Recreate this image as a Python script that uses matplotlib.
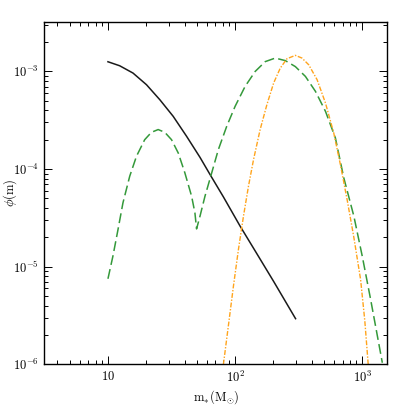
import matplotlib
matplotlib.use('Agg')
import matplotlib.pyplot as plt
from matplotlib.ticker import FixedLocator, FixedFormatter, LogLocator, NullFormatter

plt.rcParams['mathtext.fontset'] = 'cm'
plt.rcParams['font.family'] = 'serif'

# solid black curve
m_black = [10, 12.36, 15.74, 20.09, 25.59, 32.58, 41.5, 52.97, 63.53, 80.91, 109.4,
           148.3, 200.9, 299]
phi_black = [1.256e-3, 1.143e-3, 9.62e-4, 7.31e-4, 5.13e-4, 3.47e-4, 2.17e-4, 1.318e-4,
             8.79e-5, 5.19e-5, 2.61e-5, 1.36e-5, 7.08e-6, 2.94e-6]

# green dashed curve (two humps)
m_green = [10, 10.94, 12.0, 13.12, 14.83, 16.75, 19.45, 21.98, 24.83, 27.99, 31.62,
           35.73, 40.27, 45.5, 48.31, 49.77, 52.97, 57.94, 65.46, 73.79, 85.9, 100,
           119.9, 143.9, 172.6, 207.0, 248.3, 297.9, 357.3, 428.5, 514.0, 615.2, 716.1,
           859.0, 1000, 1164, 1439]
phi_green = [7.53e-6, 1.285e-5, 2.41e-5, 4.51e-5, 8.45e-5, 1.35e-4, 2.0e-4, 2.38e-4,
             2.54e-4, 2.38e-4, 2.0e-4, 1.46e-4, 9.14e-5, 5.27e-5, 3.56e-5, 2.44e-5,
             3.3e-5, 5.27e-5, 9.14e-5, 1.58e-4, 2.74e-4, 4.39e-4, 7.03e-4, 1.0e-3,
             1.26e-3, 1.37e-3, 1.29e-3, 1.12e-3, 8.89e-4, 6.25e-4, 3.9e-4, 2.08e-4,
             8.13e-5, 3.3e-5, 1.285e-5, 4.63e-6, 1.04e-6]

# orange dash-dot curve
m_orange = [80.91, 88.51, 97.05, 106.2, 116.4, 127.4, 139.6, 157.4, 177.8, 200.9, 226.5,
            255.9, 297.9, 335.7, 379.3, 441.6, 514.0, 597.0, 674.5, 762.1, 859.0, 970.5,
            1047, 1114]
phi_orange = [1.0e-6, 2.48e-6, 6.34e-6, 1.5e-5, 3.3e-5, 6.68e-5, 1.25e-4, 2.54e-4,
              4.56e-4, 7.6e-4, 1.08e-3, 1.35e-3, 1.46e-3, 1.37e-3, 1.17e-3, 8.22e-4,
              4.74e-4, 2.34e-4, 1.1e-4, 4.79e-5, 2.0e-5, 7.41e-6, 2.82e-6, 1.0e-6]

xticks = [10, 100, 1000]
xticklabels = [r'$10$', r'$10^{2}$', r'$10^{3}$']
yticks = [1e-6, 1e-5, 1e-4, 1e-3]
yticklabels = [r'$10^{-6}$', r'$10^{-5}$', r'$10^{-4}$', r'$10^{-3}$']

fig = plt.figure(figsize=(4.09, 4.09), dpi=100)
ax = fig.add_axes([0.108, 0.109, 0.839, 0.837])

ax.plot(m_black, phi_black, color='#1a1a1a', lw=1.1)
ax.plot(m_green, phi_green, color='#34993a', lw=1.1, dashes=(6.5, 2.8))
ax.plot(m_orange, phi_orange, color='#ffa41c', lw=1.0, dashes=(3.5, 1.2, 1, 1.2))

ax.set_xscale('log')
ax.set_yscale('log')
ax.set_xlim(3.15, 1575)
ax.set_ylim(1e-6, 3.2e-3)

ax.xaxis.set_major_locator(FixedLocator(xticks))
ax.xaxis.set_major_formatter(FixedFormatter(xticklabels))
ax.yaxis.set_major_locator(FixedLocator(yticks))
ax.yaxis.set_major_formatter(FixedFormatter(yticklabels))
ax.xaxis.set_minor_locator(LogLocator(base=10, subs=range(2, 10)))
ax.yaxis.set_minor_locator(LogLocator(base=10, subs=range(2, 10)))
ax.xaxis.set_minor_formatter(NullFormatter())
ax.yaxis.set_minor_formatter(NullFormatter())

ax.tick_params(which='both', direction='in', top=True, right=True, labelsize=9, width=0.7)
ax.tick_params(which='major', length=5.5, pad=4)
ax.tick_params(which='minor', length=3)
for s in ax.spines.values():
    s.set_linewidth(1.0)

ax.set_xlabel(r'$\mathrm{m_{*}(M_{\odot})}$', fontsize=9)
ax.set_ylabel(r'$\phi(\mathrm{m})$', fontsize=9)
ax.xaxis.set_label_coords(0.5, -0.07)
ax.yaxis.set_label_coords(-0.074, 0.5)

fig.savefig('out.png', dpi=100)
